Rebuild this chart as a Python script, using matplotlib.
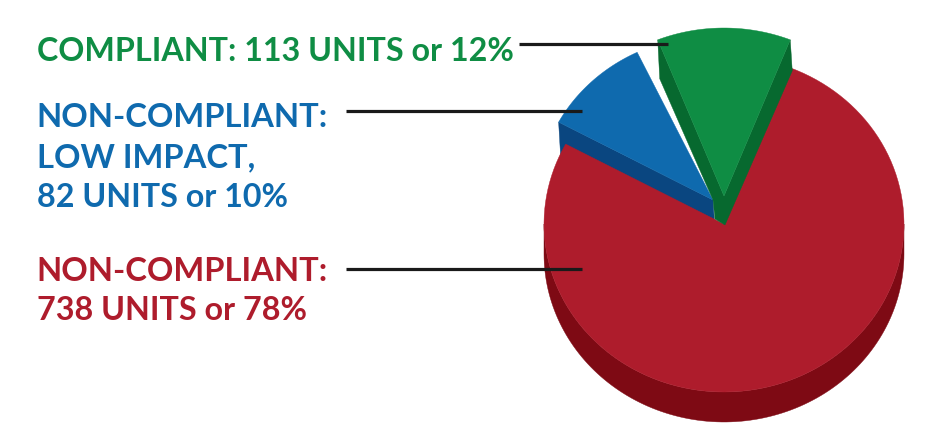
import numpy as np
import matplotlib
matplotlib.use('Agg')
import matplotlib.pyplot as plt
from matplotlib.patches import Polygon

categories = ['COMPLIANT', 'NON-COMPLIANT LOW IMPACT', 'NON-COMPLIANT']
units = [113, 82, 738]
percents = [12, 10, 78]

GREEN, GREEN_DARK = '#0f8d44', '#07692f'
BLUE, BLUE_DARK = '#0f6aae', '#0a4680'
RED, RED_DARK = '#ae1c2c', '#7e0a14'

RX, RY, DEPTH = 180, 168, 30


def arc(cx, cy, t1, t2, n=120, scale=1.0):
    t = np.radians(np.linspace(t1, t2, n))
    return np.column_stack([cx + scale * RX * np.cos(t), cy - scale * RY * np.sin(t)])


def wedge(ax, cx, cy, t1, t2, color, z, scale=1.0):
    pts = np.vstack([[cx, cy], arc(cx, cy, t1, t2, scale=scale)])
    ax.add_patch(Polygon(pts, closed=True, fc=color, ec=color, lw=0.3, zorder=z))


def side(ax, pts, color, z):
    ax.add_patch(Polygon(pts, closed=True, fc=color, ec=color, lw=0.3, zorder=z))


fig = plt.figure(figsize=(9.43, 4.39), dpi=100)
ax = fig.add_axes([0, 0, 1, 1])
ax.set_xlim(0, 943)
ax.set_ylim(439, 0)
ax.axis('off')

# angles come from the percentages, green is centred on the top
sweep = [p * 3.6 for p in percents]
g1, g2 = 90 - sweep[0] / 2, 90 + sweep[0] / 2
b1, b2 = g2 + 4, g2 + 4 + sweep[1]
r1, r2 = b2, g1 + 360

red_c = (724, 225)
blue_c = (713, 201)
green_c = (724, 197)
blue_scale = 0.975

# red body
body = np.vstack([arc(red_c[0], red_c[1], 180, 360),
                  arc(red_c[0], red_c[1] + DEPTH, 360, 180)])
side(ax, body, RED_DARK, 1)

# blue slice
bl = arc(blue_c[0], blue_c[1], b2, b2, 1, blue_scale)[0]
side(ax, [bl, blue_c, (blue_c[0] + 2, blue_c[1] + DEPTH), (bl[0] + 2, bl[1] + DEPTH + 4)], BLUE_DARK, 2)
wedge(ax, blue_c[0], blue_c[1], b1, b2, BLUE, 3, blue_scale)

# red top
wedge(ax, red_c[0], red_c[1], r1, r2, RED, 4)

# green slice
gr = arc(green_c[0], green_c[1], g1, g1, 1)[0]
gl = arc(green_c[0], green_c[1], g2, g2, 1)[0]
side(ax, [gl, (gl[0] + 2, gl[1] + DEPTH + 9), (blue_c[0], blue_c[1]),
          (blue_c[0] + 2, blue_c[1] + 19), (green_c[0] + 1, green_c[1] + DEPTH - 1),
          (gr[0] + 2, gr[1] + DEPTH + 1), gr, green_c], GREEN_DARK, 5)
wedge(ax, green_c[0], green_c[1], g1, g2, GREEN, 6)

# leader lines
for x0, x1, y in [(519, 668, 45), (346, 582, 112), (346, 582, 270)]:
    ax.plot([x0, x1], [y, y], color='#1a1a1a', lw=2.3, solid_capstyle='butt', zorder=7)

font = dict(family='Lato', weight='bold', va='baseline', ha='left')
ax.text(37, 61, f'{categories[0]}: {units[0]} UNITS or {percents[0]}%', color=GREEN, fontsize=23.2, **font)
ax.text(36, 127, 'NON-COMPLIANT:', color=BLUE, fontsize=23.6, **font)
ax.text(37, 167, 'LOW IMPACT,', color=BLUE, fontsize=23.6, **font)
ax.text(37, 207, f'{units[1]} UNITS or {percents[1]}%', color=BLUE, fontsize=23.2, **font)
ax.text(36, 281, f'{categories[2]}:', color=RED, fontsize=23.6, **font)
ax.text(37, 320, f'{units[2]} UNITS or {percents[2]}%', color=RED, fontsize=23.2, **font)

fig.savefig('out.png', dpi=100)
